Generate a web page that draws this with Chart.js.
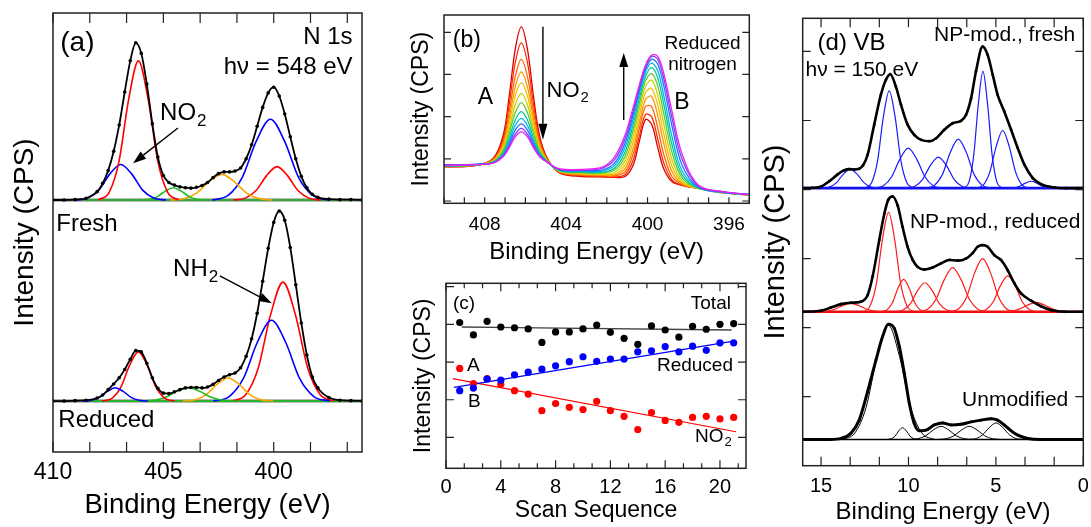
<!DOCTYPE html>
<html>
<head>
<meta charset="utf-8">
<script src="https://cdn.jsdelivr.net/npm/chart.js@4.4.0/dist/chart.umd.min.js"></script>
<style>
html, body { margin: 0; padding: 0; background: #fff; }
#page { position: relative; width: 1091px; height: 527px; overflow: hidden; background: #fff; }
#page canvas { position: absolute; }
</style>
</head>
<body>
<div id="page">
  <canvas id="chartA" width="370" height="527" style="left:0;top:0;width:370px;height:527px"></canvas>
  <canvas id="chartB" width="390" height="268" style="left:370px;top:0;width:390px;height:268px"></canvas>
  <canvas id="chartC" width="390" height="265" style="left:370px;top:262px;width:390px;height:265px"></canvas>
  <canvas id="chartD" width="339" height="527" style="left:752px;top:0;width:339px;height:527px"></canvas>
</div>
<script>
var FONT = '"Liberation Sans", Arial, sans-serif';

// ---------- panel (a): N 1s, intensity above each baseline ----------
var aEnergy = [410, 409.5, 409, 408.5, 408, 407.75, 407.5, 407.25, 407, 406.75, 406.5, 406.25, 406, 405.75, 405.5, 405.25,
  405, 404.75, 404.5, 404.25, 404, 403.75, 403.5, 403.25, 403, 402.75, 402.5, 402.25, 402, 401.75, 401.5, 401.25,
  401, 400.75, 400.5, 400.25, 400, 399.75, 399.5, 399.25, 399, 398.75, 398.5, 398.25, 398, 397.5, 397, 396.5, 396];
var aFresh = [0, 0, 0.01, 0.04, 0.19, 0.38, 0.67, 1.11, 1.71, 2.46, 3.17, 3.58, 3.34, 2.64, 1.74, 0.98,
  0.56, 0.40, 0.34, 0.30, 0.28, 0.27, 0.29, 0.33, 0.40, 0.51, 0.60, 0.64, 0.64, 0.66, 0.73, 0.94,
  1.26, 1.68, 2.11, 2.44, 2.57, 2.37, 1.96, 1.44, 0.94, 0.54, 0.28, 0.13, 0.06, 0.02, 0.01, 0.01, 0];
var aReduced = [0, 0, 0.01, 0.02, 0.07, 0.14, 0.26, 0.39, 0.53, 0.72, 0.95, 1.15, 1.12, 0.86, 0.53, 0.29,
  0.18, 0.17, 0.21, 0.26, 0.30, 0.31, 0.31, 0.30, 0.32, 0.38, 0.47, 0.55, 0.60, 0.64, 0.76, 1.02,
  1.42, 2.00, 2.73, 3.48, 4.07, 4.33, 4.12, 3.50, 2.65, 1.78, 1.05, 0.55, 0.30, 0.08, 0.02, 0.01, 0];

var aFreshRed1 = [[407.95,0],[407.45,0.18],[407.01,0.88],[406.57,2.30],[406.13,3.17],[405.69,2.30],[405.25,0.88],[404.81,0.18],[404.31,0]];
var aFreshBlue1 = [[408.98,0],[408.42,0.045],[407.92,0.225],[407.43,0.59],[406.93,0.81],[406.43,0.59],[405.94,0.225],[405.44,0.045],[404.88,0]];
var aFreshGreen = [[406.04,0],[405.63,0.016],[405.27,0.078],[404.91,0.203],[404.55,0.28],[404.19,0.203],[403.83,0.078],[403.47,0.016],[403.06,0]];
var aFreshOrange = [[404.67,0],[404.04,0.033],[403.48,0.163],[402.92,0.425],[402.36,0.585],[401.8,0.425],[401.24,0.163],[400.68,0.033],[400.05,0]];
var aFreshBlue2 = [[402.79,0],[402.07,0.103],[401.43,0.51],[400.79,1.34],[400.15,1.84],[399.51,1.34],[398.87,0.51],[398.23,0.103],[397.51,0]];
var aFreshRed2 = [[401.83,0],[401.29,0.043],[400.81,0.21],[400.33,0.55],[399.85,0.76],[399.37,0.55],[398.89,0.21],[398.41,0.043],[397.87,0]];

var aRedBlue1 = [[408.67,0],[408.26,0.017],[407.9,0.085],[407.54,0.221],[407.18,0.305],[406.82,0.221],[406.46,0.085],[406.1,0.017],[405.69,0]];
var aRedRed1 = [[407.78,0],[407.33,0.063],[406.93,0.311],[406.53,0.813],[406.13,1.12],[405.73,0.813],[405.33,0.311],[404.93,0.063],[404.48,0]];
var aRedGreen = [[406.02,0],[405.43,0.017],[404.91,0.085],[404.39,0.221],[403.87,0.305],[403.35,0.221],[402.83,0.085],[402.31,0.017],[401.72,0]];
var aRedOrange = [[404.12,0],[403.56,0.029],[403.06,0.146],[402.57,0.381],[402.07,0.525],[401.57,0.381],[401.08,0.146],[400.58,0.029],[400.02,0]];
var aRedBlue2 = [[402.74,0],[402.02,0.103],[401.38,0.51],[400.74,1.34],[400.1,1.84],[399.46,1.34],[398.82,0.51],[398.18,0.103],[397.46,0]];
var aRedRed2 = [[401.89,0],[401.26,0.152],[400.7,0.753],[400.14,1.97],[399.58,2.71],[399.02,1.97],[398.46,0.753],[397.9,0.152],[397.27,0]];

// ---------- panel (b): successive N 1s scans ----------
var bEnergy = [410, 408.5, 407.6, 407.1, 406.8, 406.5, 406.2, 405.9, 405.6, 405.3, 404.9, 404.3, 403.2, 402.2,
  401.6, 401.1, 400.7, 400.4, 400.1, 399.8, 399.5, 399.2, 398.8, 398.3, 397.5, 396.3, 395];
var bScans = [
  [0.80,0.84,1.00,1.54,2.47,3.60,4.13,3.60,2.47,1.54,0.99,0.66,0.58,0.57,0.56,0.58,0.86,1.42,1.93,1.82,1.27,0.76,0.46,0.37,0.30,0.20,0.14],
  [0.81,0.84,0.98,1.46,2.29,3.28,3.75,3.28,2.29,1.46,0.98,0.67,0.60,0.58,0.57,0.63,0.98,1.55,2.05,2.00,1.47,0.90,0.50,0.37,0.30,0.21,0.14],
  [0.82,0.85,0.97,1.39,2.10,2.95,3.36,2.95,2.10,1.39,0.96,0.68,0.61,0.60,0.60,0.69,1.12,1.72,2.24,2.24,1.73,1.10,0.58,0.39,0.30,0.19,0.15],
  [0.80,0.85,0.96,1.33,1.95,2.70,3.06,2.70,1.95,1.33,0.95,0.69,0.63,0.61,0.62,0.77,1.25,1.87,2.40,2.48,2.03,1.36,0.70,0.41,0.30,0.21,0.14],
  [0.83,0.86,0.95,1.28,1.83,2.49,2.80,2.49,1.83,1.28,0.94,0.70,0.64,0.63,0.64,0.86,1.41,2.03,2.57,2.67,2.27,1.59,0.83,0.44,0.30,0.20,0.15],
  [0.81,0.85,0.94,1.23,1.70,2.28,2.55,2.28,1.70,1.23,0.94,0.71,0.66,0.64,0.68,0.96,1.56,2.18,2.71,2.87,2.51,1.83,0.98,0.48,0.30,0.21,0.14],
  [0.84,0.86,0.93,1.18,1.60,2.09,2.33,2.09,1.60,1.18,0.93,0.71,0.67,0.67,0.74,1.06,1.70,2.31,2.85,3.02,2.73,2.07,1.16,0.55,0.30,0.20,0.15],
  [0.82,0.85,0.92,1.14,1.49,1.92,2.12,1.92,1.49,1.14,0.92,0.72,0.69,0.68,0.79,1.17,1.83,2.44,2.95,3.16,2.92,2.29,1.34,0.62,0.31,0.21,0.14],
  [0.85,0.87,0.91,1.11,1.42,1.79,1.96,1.79,1.42,1.11,0.92,0.73,0.70,0.71,0.85,1.28,1.96,2.55,3.06,3.27,3.09,2.50,1.53,0.71,0.32,0.20,0.15],
  [0.83,0.86,0.91,1.08,1.35,1.68,1.83,1.68,1.35,1.08,0.91,0.74,0.72,0.74,0.91,1.38,2.06,2.63,3.13,3.36,3.25,2.73,1.78,0.85,0.33,0.22,0.15],
  [0.86,0.87,0.90,1.06,1.30,1.58,1.72,1.58,1.30,1.06,0.91,0.75,0.73,0.78,0.99,1.48,2.15,2.70,3.19,3.43,3.36,2.90,1.97,0.99,0.35,0.21,0.16],
  [0.84,0.86,0.90,1.05,1.26,1.52,1.64,1.52,1.26,1.05,0.91,0.76,0.75,0.81,1.06,1.57,2.23,2.76,3.22,3.46,3.43,3.02,2.13,1.11,0.38,0.22,0.15]
];
var bColors = ['#d80000','#ff2a00','#ff6400','#ff9400','#f5be00','#c8d200','#5cc832','#00c896','#00b4e6','#2a6cff','#7a3cff','#ee22ee'];

// ---------- panel (c): peak intensities per scan ----------
var scanNo = [1,2,3,4,5,6,7,8,9,10,11,12,13,14,15,16,17,18,19,20,21];
var totalCounts = [4.05,3.72,4.08,3.93,3.91,3.88,3.52,3.80,3.80,3.88,3.98,3.79,3.63,3.47,3.96,3.85,3.66,3.95,3.87,4.00,4.02];
var reducedCounts = [2.24,2.31,2.55,2.52,2.66,2.73,2.81,2.90,3.01,3.14,3.02,3.08,3.08,3.27,3.30,3.41,3.27,3.42,3.31,3.51,3.51];
var no2Counts = [2.83,2.43,2.56,2.41,2.24,2.15,1.71,1.90,1.80,1.74,1.96,1.71,1.56,1.21,1.66,1.45,1.40,1.53,1.56,1.49,1.53];
var totalFit = [[1.15,3.93],[20.85,3.85]];
var reducedFit = [[0.58,2.33],[21.1,3.56]];
var no2Fit = [[0.49,2.56],[21.17,1.15]];

// ---------- panel (d): valence band ----------
var dFreshEnv = [[16,0],[15.5,0.005],[15.01,0.02],[14.53,0.1],[14.05,0.2],[13.7,0.255],[13.39,0.275],[13.1,0.27],[12.82,0.28],[12.6,0.33],
  [12.34,0.48],[11.96,0.92],[11.58,1.35],[11.29,1.57],[11.04,1.65],[10.72,1.47],[10.43,1.21],[10.05,0.92],[9.67,0.77],[9.28,0.70],
  [8.81,0.68],[8.43,0.72],[7.95,0.845],[7.47,0.94],[6.99,0.975],[6.71,1.06],[6.42,1.30],[6.14,1.69],[5.76,2.05],[5.47,1.93],
  [5.18,1.64],[4.9,1.35],[4.52,1.11],[4.13,0.845],[3.75,0.58],[3.37,0.34],[2.89,0.145],[2.42,0.058],[1.65,0.01],[1,0],[0,0]];
var dRedEnv = [[16,0],[15.01,0.015],[14.44,0.06],[13.86,0.11],[13.29,0.13],[12.72,0.145],[12.34,0.24],[12.05,0.51],[11.67,1.04],[11.38,1.42],
  [11.16,1.62],[10.91,1.67],[10.62,1.54],[10.34,1.23],[10.05,0.94],[9.76,0.75],[9.48,0.65],[9.1,0.61],[8.62,0.64],[8.14,0.70],
  [7.66,0.75],[7.19,0.74],[6.71,0.77],[6.33,0.85],[6.04,0.94],[5.76,0.965],[5.47,0.94],[5.09,0.82],[4.71,0.75],[4.32,0.60],
  [3.94,0.41],[3.56,0.265],[2.99,0.16],[2.42,0.08],[1.85,0.024],[1.08,0],[0,0]];
var dUnmodEnv = [[16,0],[14.5,0],[13.86,0.015],[13.29,0.09],[12.82,0.28],[12.34,0.69],[11.86,1.15],[11.48,1.49],[11.16,1.67],[10.81,1.61],
  [10.52,1.34],[10.24,0.96],[9.95,0.52],[9.67,0.23],[9.38,0.125],[9.0,0.135],[8.52,0.21],[8.05,0.24],[7.57,0.21],[7.0,0.22],
  [6.42,0.255],[5.85,0.28],[5.28,0.30],[4.9,0.28],[4.52,0.21],[4.13,0.125],[3.75,0.063],[3.18,0.015],[2.42,0],[0,0]];

var dFreshComps = [
  [[14.98,0],[14.53,0.015],[14.13,0.076],[13.73,0.2],[13.33,0.275],[12.93,0.2],[12.53,0.076],[12.13,0.015],[11.68,0]],
  [[12.49,0],[12.11,0.079],[11.77,0.392],[11.44,1.024],[11.1,1.41],[10.76,1.024],[10.43,0.392],[10.09,0.079],[9.71,0]],
  [[11.99,0],[11.45,0.032],[10.97,0.161],[10.49,0.421],[10.01,0.58],[9.53,0.421],[9.05,0.161],[8.57,0.032],[8.03,0]],
  [[10.17,0],[9.66,0.025],[9.2,0.125],[8.75,0.327],[8.29,0.45],[7.83,0.327],[7.38,0.125],[6.92,0.025],[6.41,0]],
  [[9.03,0],[8.52,0.04],[8.06,0.197],[7.61,0.515],[7.15,0.71],[6.69,0.515],[6.24,0.197],[5.78,0.04],[5.27,0]],
  [[6.83,0],[6.53,0.095],[6.27,0.47],[6.0,1.227],[5.74,1.69],[5.48,1.227],[5.21,0.47],[4.95,0.095],[4.65,0]],
  [[6.13,0],[5.71,0.047],[5.35,0.232],[4.98,0.606],[4.61,0.835],[4.24,0.606],[3.87,0.232],[3.51,0.047],[3.09,0]],
  [[4.31,0],[3.95,0.006],[3.63,0.028],[3.31,0.073],[2.99,0.1],[2.67,0.073],[2.35,0.028],[2.03,0.006],[1.67,0]]
];
var dRedComps = [
  [[15.28,0],[14.74,0.007],[14.26,0.033],[13.78,0.087],[13.3,0.12],[12.82,0.087],[12.34,0.033],[11.86,0.007],[11.32,0]],
  [[12.59,0],[12.2,0.081],[11.84,0.4],[11.49,1.045],[11.14,1.44],[10.79,1.045],[10.44,0.4],[10.08,0.081],[9.69,0]],
  [[11.6,0],[11.24,0.026],[10.92,0.131],[10.6,0.341],[10.28,0.47],[9.96,0.341],[9.64,0.131],[9.32,0.026],[8.96,0]],
  [[10.78,0],[10.31,0.024],[9.89,0.117],[9.48,0.305],[9.06,0.42],[8.64,0.305],[8.23,0.117],[7.81,0.024],[7.34,0]],
  [[9.45,0],[8.91,0.036],[8.43,0.178],[7.95,0.465],[7.47,0.64],[6.99,0.465],[6.51,0.178],[6.03,0.036],[5.49,0]],
  [[7.64,0],[7.13,0.043],[6.67,0.214],[6.22,0.559],[5.76,0.77],[5.3,0.559],[4.85,0.214],[4.39,0.043],[3.88,0]],
  [[6.04,0],[5.57,0.029],[5.15,0.145],[4.74,0.378],[4.32,0.52],[3.9,0.378],[3.49,0.145],[3.07,0.029],[2.6,0]],
  [[4.68,0],[4.14,0.008],[3.66,0.038],[3.18,0.098],[2.7,0.135],[2.22,0.098],[1.74,0.038],[1.26,0.008],[0.72,0]]
];
var dUnmodComps = [
  [[13.79,0],[13.07,0.093],[12.43,0.46],[11.79,1.2],[11.15,1.655],[10.51,1.2],[9.87,0.46],[9.23,0.093],[8.51,0]],
  [[11.23,0],[10.99,0.01],[10.77,0.047],[10.56,0.123],[10.34,0.17],[10.12,0.123],[9.91,0.047],[9.69,0.01],[9.45,0]],
  [[9.96,0],[9.46,0.011],[9.02,0.053],[8.58,0.138],[8.14,0.19],[7.7,0.138],[7.26,0.053],[6.82,0.011],[6.32,0]],
  [[8.34,0],[7.84,0.011],[7.4,0.053],[6.96,0.138],[6.52,0.19],[6.08,0.138],[5.64,0.053],[5.2,0.011],[4.7,0]],
  [[6.57,0],[6.14,0.013],[5.76,0.067],[5.37,0.174],[4.99,0.24],[4.61,0.174],[4.22,0.067],[3.84,0.013],[3.41,0]]
];

// ---------- helpers ----------
function pairs(arr, off) {
  return arr.map(function (p) { return {x: p[0], y: p[1] + off}; });
}
function zip(xs, ys, off) {
  return xs.map(function (x, i) { return {x: x, y: ys[i] + off}; });
}
function curve(data, color, width, order, extra) {
  var d = {data: data, borderColor: color, backgroundColor: color, borderWidth: width, pointRadius: 0,
    fill: false, cubicInterpolationMode: 'monotone', order: order};
  for (var k in extra || {}) d[k] = extra[k];
  return d;
}
function isMult(v, m) { return Math.abs(v / m - Math.round(v / m)) < 1e-6; }

function xAxis(o) {
  return {
    type: 'linear', min: o.min, max: o.max, reverse: !!o.reverse,
    afterBuildTicks: function (s) { s.ticks = o.ticks.map(function (v) { return {value: v}; }); },
    afterFit: function (s) { s.height = o.height; },
    grid: {display: false, drawTicks: false}, border: {display: false},
    ticks: {color: '#000', font: {family: FONT, size: o.tickSize}, padding: o.tickPad, maxRotation: 0, autoSkip: false,
      callback: o.label || function (v) { return isMult(v, o.every) ? String(Math.round(v)) : ''; }},
    title: {display: true, text: o.title, color: '#000', font: {family: FONT, size: o.titleSize}, padding: {top: 0, bottom: o.titlePad}}
  };
}
function yAxis(o) {
  return {
    type: 'linear', min: o.min, max: o.max,
    afterBuildTicks: function (s) { s.ticks = o.ticks.map(function (v) { return {value: v}; }); },
    afterFit: function (s) { s.width = o.width; },
    grid: {display: false, drawTicks: false}, border: {display: false},
    ticks: {display: false},
    title: {display: true, text: 'Intensity (CPS)', color: '#000', font: {family: FONT, size: o.titleSize}, padding: {top: o.titlePad, bottom: 0}}
  };
}

// frame with inward ticks, drawn from the chart's own scales
var boxPlugin = {
  id: 'box',
  afterDraw: function (chart, args, o) {
    var ctx = chart.ctx, a = chart.chartArea, sx = chart.scales.x, sy = chart.scales.y;
    ctx.save();
    ctx.strokeStyle = '#222';
    ctx.lineWidth = 1.5;
    ctx.strokeRect(a.left, a.top, a.right - a.left, a.bottom - a.top);
    ctx.lineWidth = 1.2;
    ctx.beginPath();
    sx.ticks.forEach(function (t) {
      var px = sx.getPixelForValue(t.value);
      var L = t.label ? o.xLen : o.xMinor;
      ctx.moveTo(px, a.bottom); ctx.lineTo(px, a.bottom - L);
      if (o.xTop) { ctx.moveTo(px, a.top); ctx.lineTo(px, a.top + L); }
    });
    if (o.yLen) {
      sy.ticks.forEach(function (t) {
        var py = sy.getPixelForValue(t.value);
        ctx.moveTo(a.left, py); ctx.lineTo(a.left + o.yLen, py);
        ctx.moveTo(a.right, py); ctx.lineTo(a.right - o.yLen, py);
      });
    }
    ctx.stroke();
    ctx.restore();
  }
};

// labels and arrows placed in data coordinates
var notesPlugin = {
  id: 'notes',
  afterDatasetsDraw: function (chart, args, o) {
    var ctx = chart.ctx, sx = chart.scales.x, sy = chart.scales.y;
    (o.items || []).forEach(function (it) {
      var px = sx.getPixelForValue(it.x), py = sy.getPixelForValue(it.y);
      ctx.save();
      ctx.fillStyle = '#000';
      ctx.strokeStyle = '#000';
      if (it.x2 !== undefined) {
        var qx = sx.getPixelForValue(it.x2), qy = sy.getPixelForValue(it.y2);
        var ang = Math.atan2(qy - py, qx - px), hl = it.head || 13, hw = 4.5;
        var bx = qx - hl * Math.cos(ang), by = qy - hl * Math.sin(ang);
        ctx.lineWidth = 1.4;
        ctx.beginPath(); ctx.moveTo(px, py); ctx.lineTo(bx, by); ctx.stroke();
        ctx.beginPath(); ctx.moveTo(qx, qy);
        ctx.lineTo(bx + hw * Math.sin(ang), by - hw * Math.cos(ang));
        ctx.lineTo(bx - hw * Math.sin(ang), by + hw * Math.cos(ang));
        ctx.closePath(); ctx.fill();
      } else {
        ctx.textBaseline = 'middle';
        ctx.textAlign = 'left';
        var main = it.size + 'px ' + FONT, small = Math.round(it.size * 0.7) + 'px ' + FONT;
        ctx.font = main;
        var w = ctx.measureText(it.text).width, sw = 0;
        if (it.sub) { ctx.font = small; sw = ctx.measureText(it.sub).width + 1; }
        var total = w + sw;
        var x0 = it.align === 'right' ? px - total : (it.align === 'center' ? px - total / 2 : px);
        ctx.font = main;
        ctx.fillText(it.text, x0, py);
        if (it.sub) { ctx.font = small; ctx.fillText(it.sub, x0 + w + 1, py + it.size * 0.33); }
      }
      ctx.restore();
    });
  }
};

function baseOptions(pad, scales, box, notes) {
  return {
    responsive: false, animation: false, devicePixelRatio: 1, events: [],
    layout: {padding: pad},
    scales: scales,
    plugins: {legend: {display: false}, tooltip: {enabled: false}, box: box, notes: {items: notes}}
  };
}

// ---------- chart (a) ----------
var FRESH = 5.74, REDUCED = 1.16;
var RED = '#ff0000', BLUE = '#0000ff', GREEN = '#22bb22', ORANGE = '#ffa500';
var dotStyle = {pointRadius: 1.8, pointBackgroundColor: '#000', pointBorderWidth: 0};
var aSets = [
  curve(zip(aEnergy, aFresh, FRESH), '#000', 1.8, 0, dotStyle),
  curve(zip(aEnergy, aReduced, REDUCED), '#000', 1.8, 0, dotStyle),
  curve(pairs([[410,0],[396,0]], FRESH), '#777', 3, 3),
  curve(pairs([[410,0],[396,0]], REDUCED), '#777', 3, 3),
  curve(pairs([[408.6,0],[396,0]], FRESH), GREEN, 1.6, 2),
  curve(pairs([[408.4,0],[396,0]], REDUCED), GREEN, 1.6, 2)
];
[[aFreshRed1, RED], [aFreshBlue1, BLUE], [aFreshGreen, GREEN], [aFreshOrange, ORANGE], [aFreshBlue2, BLUE], [aFreshRed2, RED]]
  .forEach(function (c) { aSets.push(curve(pairs(c[0], FRESH), c[1], 1.6, 1)); });
[[aRedBlue1, BLUE], [aRedRed1, RED], [aRedGreen, GREEN], [aRedOrange, ORANGE], [aRedBlue2, BLUE], [aRedRed2, RED]]
  .forEach(function (c) { aSets.push(curve(pairs(c[0], REDUCED), c[1], 1.6, 1)); });

var aTicks = [];
for (var k = 0; k <= 8; k++) aTicks.push(410 - 5 * k / 3);

new Chart(document.getElementById('chartA'), {
  type: 'line',
  data: {datasets: aSets},
  options: baseOptions({left: 0, top: 13, right: 8, bottom: 0}, {
    x: xAxis({min: 396, max: 410, reverse: true, ticks: aTicks, every: 5, height: 75, tickSize: 23, tickPad: 7,
      title: 'Binding Energy (eV)', titleSize: 27.5, titlePad: 5}),
    y: yAxis({min: 0, max: 10, ticks: [], width: 53, titleSize: 28, titlePad: 8})
  }, {xLen: 10, xMinor: 10, xTop: true, yLen: 0}, [
    {x: 409.67, y: 9.31, text: '(a)', size: 28},
    {x: 396.43, y: 9.45, text: 'N 1s', size: 24, align: 'right'},
    {x: 396.43, y: 8.77, text: 'h\u03bd = 548 eV', size: 24, align: 'right'},
    {x: 405.15, y: 7.72, text: 'NO', sub: '2', size: 24},
    {x: 404.34, y: 7.38, x2: 406.37, y2: 6.58},
    {x: 409.85, y: 5.19, text: 'Fresh', size: 24},
    {x: 404.56, y: 4.15, text: 'NH', sub: '2', size: 24},
    {x: 402.44, y: 4.01, x2: 400.09, y2: 3.39},
    {x: 409.76, y: 0.71, text: 'Reduced', size: 24}
  ]),
  plugins: [boxPlugin, notesPlugin]
});

// ---------- chart (b) ----------
var bSets = bScans.map(function (s, i) {
  return curve(zip(bEnergy, s, 0), bColors[i], 1.3, bScans.length - 1 - i, {cubicInterpolationMode: 'default', tension: 0.35});
});
var bTicks = [];
for (var e = 395; e <= 410; e++) bTicks.push(e);

new Chart(document.getElementById('chartB'), {
  type: 'line',
  data: {datasets: bSets},
  options: baseOptions({left: 0, top: 15, right: 10.7, bottom: 0}, {
    x: xAxis({min: 395, max: 410, reverse: true, ticks: bTicks, height: 64.7, tickSize: 19, tickPad: 10,
      label: function (v) { return (v - 396) % 4 === 0 ? String(v) : ''; },
      title: 'Binding Energy (eV)', titleSize: 24, titlePad: 1.5}),
    y: yAxis({min: -0.055, max: 4.41, ticks: [0, 1, 2, 3, 4], width: 74, titleSize: 23, titlePad: 38})
  }, {xLen: 6, xMinor: 6, xTop: false, yLen: 7}, [
    {x: 409.57, y: 3.79, text: '(b)', size: 23},
    {x: 408.34, y: 2.44, text: 'A', size: 23},
    {x: 404.96, y: 2.61, text: 'NO', sub: '2', size: 22},
    {x: 405.14, y: 4.13, x2: 405.14, y2: 1.45, head: 16},
    {x: 398.69, y: 2.32, text: 'B', size: 23},
    {x: 401.17, y: 1.92, x2: 401.17, y2: 3.51, head: 14},
    {x: 397.3, y: 3.73, text: 'Reduced', size: 19, align: 'center'},
    {x: 397.3, y: 3.22, text: 'nitrogen', size: 19, align: 'center'}
  ]),
  plugins: [boxPlugin, notesPlugin]
});

// ---------- chart (c) ----------
function dots(ys, color) {
  return {data: zip(scanNo, ys, 0), showLine: false, pointRadius: 3.6, pointBackgroundColor: color,
    pointBorderWidth: 0, borderColor: color, order: 0};
}
var cTicks = [];
for (var m = 0; m <= 16; m++) cTicks.push(m * 4 / 3);

new Chart(document.getElementById('chartC'), {
  type: 'line',
  data: {datasets: [
    dots(totalCounts, '#000'), dots(reducedCounts, '#0000ff'), dots(no2Counts, '#ff0000'),
    curve(pairs(totalFit, 0), '#444', 1.4, 1),
    curve(pairs(reducedFit, 0), '#0000ff', 1.2, 1),
    curve(pairs(no2Fit, 0), '#ff0000', 1.2, 1)
  ]},
  options: baseOptions({left: 0, top: 21.3, right: 14, bottom: 0}, {
    x: xAxis({min: 0, max: 21.9, ticks: cTicks, every: 4, height: 58.7, tickSize: 20, tickPad: 7,
      title: 'Scan Sequence', titleSize: 23, titlePad: 3}),
    y: yAxis({min: 0.18, max: 5.09, ticks: [1, 2, 3, 4, 5], width: 76, titleSize: 23, titlePad: 40})
  }, {xLen: 8, xMinor: 5, xTop: true, yLen: 8}, [
    {x: 0.51, y: 4.54, text: '(c)', size: 19},
    {x: 20.8, y: 4.56, text: 'Total', size: 19, align: 'right'},
    {x: 20.95, y: 2.89, text: 'Reduced', size: 19, align: 'right'},
    {x: 1.53, y: 2.89, text: 'A', size: 19},
    {x: 1.61, y: 1.94, text: 'B', size: 19},
    {x: 18.18, y: 1.02, text: 'NO', sub: '2', size: 19}
  ]),
  plugins: [boxPlugin, notesPlugin]
});

// ---------- chart (d) ----------
var DF = 4.02, DR = 2.23, DU = 0.38;
var dDot = {pointRadius: 1.4, pointBackgroundColor: '#000', pointBorderWidth: 0};
var dSets = [
  curve(pairs(dFreshEnv, DF), '#000', 2.6, 0, dDot),
  curve(pairs(dRedEnv, DR), '#000', 2.6, 0, dDot),
  curve(pairs(dUnmodEnv, DU), '#000', 3, 0, dDot),
  curve(pairs([[16.05,0],[0,0]], DF), '#1010ee', 2.6, 2),
  curve(pairs([[16.05,0],[0,0]], DR), '#ee1010', 2.6, 2),
  curve(pairs([[16.05,0],[0,0]], DU), '#000', 1.6, 2)
];
dFreshComps.forEach(function (c) { dSets.push(curve(pairs(c, DF), '#1a1aff', 1.2, 1)); });
dRedComps.forEach(function (c) { dSets.push(curve(pairs(c, DR), '#ff1a1a', 1.2, 1)); });
dUnmodComps.forEach(function (c) { dSets.push(curve(pairs(c, DU), '#000', 1, 1)); });

var dTicks = [];
for (var n = 0; n <= 9; n++) dTicks.push(n * 5 / 3);

new Chart(document.getElementById('chartD'), {
  type: 'line',
  data: {datasets: dSets},
  options: baseOptions({left: 0, top: 18.3, right: 7.7, bottom: 0}, {
    x: xAxis({min: 0, max: 16.05, reverse: true, ticks: dTicks, every: 5, height: 61.3, tickSize: 20, tickPad: 9,
      title: 'Binding Energy (eV)', titleSize: 24, titlePad: 0}),
    y: yAxis({min: 0, max: 6.48, ticks: [1, 2, 3, 4, 5, 6], width: 50.7, titleSize: 29, titlePad: 6.6})
  }, {xLen: 9, xMinor: 9, xTop: true, yLen: 8}, [
    {x: 15.2, y: 6.12, text: '(d) VB', size: 24},
    {x: 15.89, y: 5.73, text: 'h\u03bd = 150 eV', size: 21},
    {x: 0.46, y: 6.24, text: 'NP-mod., fresh', size: 21, align: 'right'},
    {x: 0.17, y: 3.53, text: 'NP-mod., reduced', size: 21, align: 'right'},
    {x: 0.86, y: 0.95, text: 'Unmodified', size: 21, align: 'right'}
  ]),
  plugins: [boxPlugin, notesPlugin]
});
</script>
</body>
</html>
